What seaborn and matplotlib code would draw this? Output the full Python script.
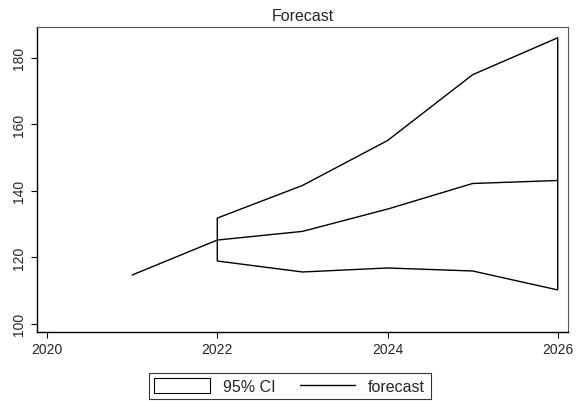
import matplotlib
matplotlib.use('Agg')
from matplotlib import pyplot as plt
from matplotlib.patches import Patch
from matplotlib.lines import Line2D
import seaborn as sns
import pandas as pd

years = [2021, 2022, 2023, 2024, 2025, 2026]
forecast = [114.7, 125.2, 127.8, 134.5, 142.2, 143.1]
ci_years = [2022, 2023, 2024, 2025, 2026]
ci_upper = [131.8, 141.6, 155.1, 174.9, 186.0]
ci_lower = [118.9, 115.6, 116.8, 115.9, 110.2]

sns.set_style('ticks')
plt.rcParams['font.family'] = ['Liberation Sans', 'DejaVu Sans']

df = pd.DataFrame({'year': years, 'forecast': forecast})

fig = plt.figure(figsize=(5.76, 4.02), dpi=100)
ax = fig.add_axes([0.064, 0.172, 0.922, 0.758])

ax.fill_between(ci_years, ci_lower, ci_upper, facecolor='none', edgecolor='black', linewidth=1.0)
sns.lineplot(data=df, x='year', y='forecast', color='black', linewidth=1.0, ax=ax)

ax.set_xlim(2019.88, 2026.12)
ax.set_ylim(97.6, 189.2)
ax.set_xticks([2020, 2022, 2024, 2026])
ax.set_yticks([100, 120, 140, 160, 180])
ax.set_xlabel('')
ax.set_ylabel('')
ax.set_title('Forecast', fontsize=11.5, pad=5)
ax.tick_params(axis='both', labelsize=10, length=4, width=0.8, color='black')
for lab in ax.get_yticklabels():
    lab.set_rotation(90)
    lab.set_va('center')

for side in ['left', 'bottom']:
    ax.spines[side].set_color('black')
    ax.spines[side].set_linewidth(1.0)
for side in ['top', 'right']:
    ax.spines[side].set_visible(True)
    ax.spines[side].set_color('#555555')
    ax.spines[side].set_linewidth(0.8)

handles = [Patch(facecolor='white', edgecolor='black', linewidth=0.8),
           Line2D([0], [0], color='black', linewidth=1.0)]
leg = fig.legend(handles, ['95% CI', 'forecast'], loc='lower center',
                 bbox_to_anchor=(0.503, -0.016), ncol=2, frameon=True, fancybox=False,
                 edgecolor='black', fontsize=11.5, handlelength=3.5, handleheight=1.0,
                 columnspacing=1.5, borderpad=0.35, handletextpad=0.8)
leg.get_frame().set_linewidth(0.8)

fig.savefig('out.png', dpi=100)
